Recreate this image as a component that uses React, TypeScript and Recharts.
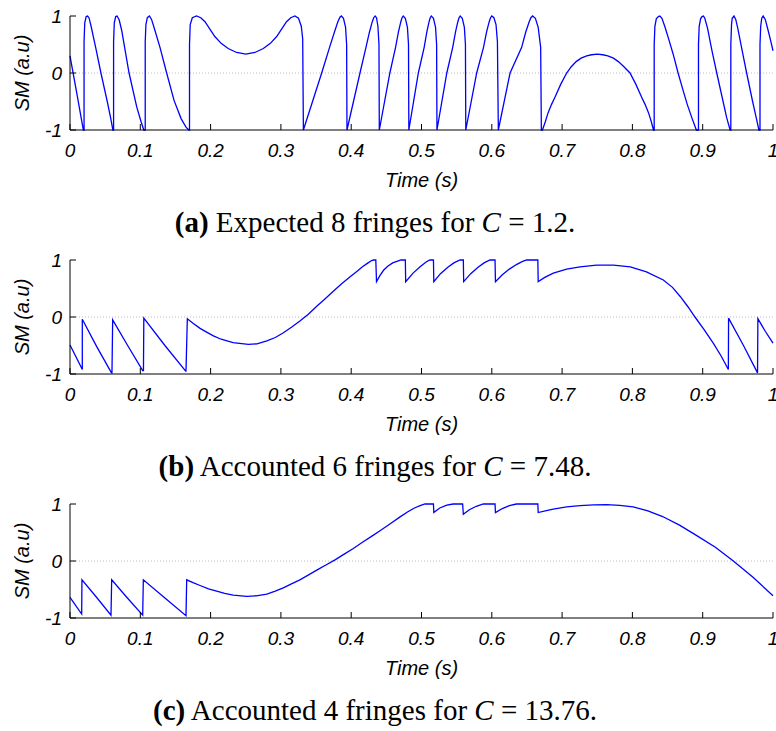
import React from "react";
import { LineChart, Line, XAxis, YAxis, ReferenceLine } from "recharts";

type Sample = [number, number];

// axis ticks
const timeTicks = [0, 0.1, 0.2, 0.3, 0.4, 0.5, 0.6, 0.7, 0.8, 0.9, 1];
const timeTickLabels = ["0", "0.1", "0.2", "0.3", "0.4", "0.5", "0.6", "0.7", "0.8", "0.9", "1"];
const smTicks = [-1, 0, 1];
const smTickLabels = ["-1", "0", "1"];

// sub-figure captions
const panelTags = ["(a)", "(b)", "(c)"];
const panelTexts = ["Expected 8 fringes for", "Accounted 6 fringes for", "Accounted 4 fringes for"];
const panelC = ["1.2", "7.48", "13.76"];

// (a) C = 1.2 : [time s, SM a.u]
const smA: Sample[] = [
  [0, 0.3], [0.01, -0.38], [0.019, -1],
  [0.02, -1], [0.02, 0.55], [0.021, 0.88], [0.023, 0.99], [0.025, 1], [0.027, 0.97], [0.03, 0.82], [0.037, 0.42], [0.044, 0], [0.053, -0.5], [0.058, -0.8], [0.061, -1],
  [0.062, -1], [0.062, 0.55], [0.063, 0.88], [0.065, 0.99], [0.067, 1], [0.07, 0.93], [0.0735, 0.75], [0.084, 0], [0.095, -0.6], [0.101, -0.85], [0.105, -1],
  [0.107, -1], [0.107, 0.55], [0.108, 0.85], [0.11, 0.97], [0.113, 1], [0.116, 0.94], [0.12, 0.78], [0.128, 0.45], [0.1375, 0], [0.148, -0.48], [0.158, -0.8], [0.165, -0.95], [0.169, -1],
  [0.17, -1], [0.17, 0.5], [0.171, 0.85], [0.174, 0.97], [0.18, 1], [0.186, 0.97], [0.192, 0.9], [0.199, 0.77], [0.206, 0.64], [0.215, 0.52], [0.225, 0.43], [0.237, 0.36], [0.25, 0.33], [0.263, 0.36], [0.275, 0.43], [0.285, 0.52], [0.294, 0.64], [0.301, 0.77], [0.308, 0.9], [0.314, 0.97], [0.32, 1], [0.325, 0.96], [0.329, 0.82], [0.331, 0.6], [0.332, -1],
  [0.358, 0], [0.37, 0.48], [0.377, 0.75], [0.381, 0.9], [0.384, 0.98], [0.386, 1], [0.389, 0.96], [0.392, 0.8], [0.3935, 0.5], [0.394, -1],
  [0.4125, 0], [0.421, 0.45], [0.426, 0.72], [0.43, 0.9], [0.432, 0.97], [0.434, 1], [0.436, 0.97], [0.438, 0.82], [0.4395, 0.5], [0.44, -1],
  [0.455, 0], [0.4631, 0.45], [0.4672, 0.72], [0.4706, 0.9], [0.4723, 0.97], [0.474, 1], [0.477, 0.96], [0.48, 0.8], [0.4815, 0.5], [0.482, -1],
  [0.4955, 0], [0.5038, 0.45], [0.5076, 0.72], [0.5108, 0.9], [0.5124, 0.97], [0.514, 1], [0.517, 0.96], [0.52, 0.8], [0.5215, 0.5], [0.522, -1],
  [0.536, 0], [0.5444, 0.45], [0.5484, 0.72], [0.5517, 0.9], [0.5534, 0.97], [0.555, 1], [0.558, 0.96], [0.561, 0.8], [0.5625, 0.5], [0.563, -1],
  [0.5785, 0], [0.5882, 0.45], [0.5926, 0.72], [0.5963, 0.9], [0.5982, 0.97], [0.6, 1], [0.603, 0.97], [0.606, 0.85], [0.608, 0.55], [0.6093, -1],
  [0.626, 0], [0.6425, 0.45], [0.6483, 0.72], [0.6532, 0.9], [0.6556, 0.97], [0.658, 1], [0.662, 0.96], [0.666, 0.8], [0.6695, 0.45], [0.6705, -1],
  [0.672, -1], [0.676, -0.86], [0.68, -0.7], [0.685, -0.55], [0.69, -0.42], [0.698, -0.2], [0.7065, 0], [0.713, 0.11], [0.72, 0.2], [0.727, 0.26], [0.735, 0.3], [0.742, 0.32], [0.75, 0.33], [0.758, 0.32], [0.765, 0.3], [0.773, 0.26], [0.78, 0.2], [0.788, 0.11], [0.7966, 0], [0.805, -0.2], [0.813, -0.42], [0.818, -0.55], [0.823, -0.7], [0.827, -0.86], [0.83, -1],
  [0.831, -1], [0.831, 0.5], [0.832, 0.82], [0.834, 0.95], [0.837, 0.99], [0.839, 1], [0.842, 0.96], [0.846, 0.82], [0.851, 0.62], [0.858, 0.33], [0.865, 0], [0.872, -0.3], [0.878, -0.55], [0.885, -0.8], [0.891, -1],
  [0.894, -1], [0.894, 0.5], [0.895, 0.82], [0.897, 0.95], [0.899, 0.99], [0.901, 1], [0.903, 0.96], [0.907, 0.78], [0.913, 0.4], [0.92, 0], [0.929, -0.5], [0.934, -0.78], [0.939, -1],
  [0.94, -1], [0.94, 0.5], [0.941, 0.85], [0.942, 0.96], [0.9445, 1], [0.947, 0.94], [0.95, 0.78], [0.956, 0.4], [0.9625, 0], [0.971, -0.5], [0.976, -0.78], [0.98, -1],
  [0.9815, -1], [0.9815, 0.5], [0.9825, 0.82], [0.984, 0.96], [0.986, 1], [0.989, 0.94], [0.993, 0.75], [0.997, 0.55], [1, 0.39],
];

// (b) C = 7.48
const smB: Sample[] = [
  [0, -0.49], [0.009, -0.71], [0.0175, -0.92],
  [0.0175, -0.04], [0.038, -0.52], [0.059, -0.98],
  [0.0597, -0.98], [0.0607, -0.05], [0.082, -0.5], [0.1034, -0.94],
  [0.1045, -0.94], [0.105, -0.02], [0.135, -0.5], [0.1646, -0.95],
  [0.165, -0.95], [0.1669, -0.03], [0.175, -0.11], [0.185, -0.2], [0.195, -0.27], [0.204, -0.33], [0.215, -0.39], [0.232, -0.45], [0.2536, -0.48], [0.266, -0.47], [0.28, -0.42], [0.292, -0.36], [0.303, -0.28], [0.315, -0.18], [0.327, -0.07], [0.339, 0.05], [0.351, 0.19], [0.363, 0.32], [0.3745, 0.45], [0.386, 0.58], [0.398, 0.7], [0.408, 0.8], [0.416, 0.88], [0.424, 0.95], [0.429, 0.99], [0.432, 1], [0.435, 1],
  [0.436, 0.62], [0.441, 0.73], [0.446, 0.82], [0.452, 0.89], [0.459, 0.95], [0.466, 0.98], [0.4708, 1], [0.477, 1],
  [0.4775, 0.62], [0.488, 0.77], [0.498, 0.88], [0.507, 0.97], [0.512, 1], [0.517, 1],
  [0.5175, 0.62], [0.527, 0.76], [0.537, 0.87], [0.546, 0.95], [0.5548, 1], [0.5595, 1],
  [0.56, 0.62], [0.57, 0.76], [0.58, 0.87], [0.589, 0.95], [0.5974, 1], [0.6046, 1],
  [0.6052, 0.62], [0.615, 0.74], [0.625, 0.84], [0.635, 0.92], [0.643, 0.97], [0.6496, 1], [0.6655, 1],
  [0.666, 0.62], [0.676, 0.7], [0.6875, 0.77], [0.7065, 0.84], [0.7255, 0.88], [0.749, 0.91], [0.773, 0.91], [0.797, 0.88], [0.82, 0.79], [0.844, 0.65], [0.857, 0.52], [0.868, 0.36], [0.879, 0.18], [0.889, 0], [0.902, -0.22], [0.915, -0.46], [0.926, -0.68], [0.9365, -0.92],
  [0.9368, -0.02], [0.958, -0.5], [0.978, -0.98],
  [0.9785, -0.03], [0.989, -0.25], [1, -0.46],
];

// (c) C = 13.76
const smC: Sample[] = [
  [0, -0.64], [0.0166, -0.93],
  [0.017, -0.33], [0.038, -0.64], [0.0583, -0.95],
  [0.0593, -0.33], [0.081, -0.64], [0.1034, -0.95],
  [0.1043, -0.33], [0.135, -0.65], [0.165, -0.96],
  [0.166, -0.33], [0.175, -0.38], [0.185, -0.43], [0.197, -0.49], [0.2086, -0.53], [0.22, -0.57], [0.2323, -0.6], [0.2513, -0.62], [0.265, -0.61], [0.28, -0.58], [0.292, -0.53], [0.3034, -0.47], [0.315, -0.4], [0.327, -0.33], [0.34, -0.24], [0.351, -0.16], [0.364, -0.07], [0.377, 0.02], [0.39, 0.12], [0.403, 0.22], [0.416, 0.33], [0.43, 0.44], [0.441, 0.53], [0.455, 0.65], [0.469, 0.77], [0.48, 0.86], [0.49, 0.93], [0.498, 0.97], [0.505, 1], [0.517, 1],
  [0.5175, 0.85], [0.526, 0.93], [0.536, 0.98], [0.545, 1], [0.5585, 1],
  [0.5595, 0.82], [0.568, 0.9], [0.578, 0.96], [0.588, 1], [0.6046, 1],
  [0.6052, 0.85], [0.615, 0.92], [0.625, 0.97], [0.635, 1], [0.6655, 1],
  [0.666, 0.85], [0.676, 0.88], [0.6875, 0.91], [0.7065, 0.95], [0.7255, 0.97], [0.745, 0.985], [0.7635, 0.99], [0.782, 0.975], [0.801, 0.95], [0.822, 0.88], [0.843, 0.78], [0.867, 0.63], [0.891, 0.45], [0.918, 0.24], [0.9436, 0], [0.972, -0.29], [1, -0.61],
];

const panels = [smA, smB, smC];

const SANS = "'Liberation Sans', Arial, Helvetica, sans-serif";
const SERIF = "'Liberation Serif', 'Times New Roman', Times, serif";

function TimeTick(props: any) {
  const { x, y, payload } = props;
  const i = timeTicks.indexOf(payload.value);
  return (
    <g>
      <line x1={x} y1={y} x2={x} y2={y - 6} stroke="#000" strokeWidth={1} />
      <text x={x} y={y + 20} dy="0.36em" textAnchor="middle" fontFamily={SANS} fontStyle="italic" fontSize={19} fill="#000">
        {i >= 0 ? timeTickLabels[i] : payload.value}
      </text>
    </g>
  );
}

function SmTick(props: any) {
  const { x, y, payload } = props;
  const i = smTicks.indexOf(payload.value);
  return (
    <g>
      <line x1={x} y1={y} x2={x + 6} y2={y} stroke="#000" strokeWidth={1} />
      <text x={x - 8} y={y} dy="0.36em" textAnchor="end" fontFamily={SANS} fontStyle="italic" fontSize={19} fill="#000">
        {i >= 0 ? smTickLabels[i] : payload.value}
      </text>
    </g>
  );
}

function TimeTitle() {
  return (
    <text x={421.5} y={180} dy="0.36em" textAnchor="middle" fontFamily={SANS} fontStyle="italic" fontSize={20} fill="#000">
      Time (s)
    </text>
  );
}

function SmTitle() {
  return (
    <text x={22} y={73} dy="0.36em" textAnchor="middle" transform="rotate(-90 22 73)" fontFamily={SANS} fontStyle="italic" fontSize={20} fill="#000">
      SM (a.u)
    </text>
  );
}

function Panel({ index }: { index: number }) {
  const data = panels[index].map(([t, v]) => ({ t, v }));
  return (
    <div style={{ position: "absolute", left: 0, top: index * 244, width: 776, height: 244 }}>
      <LineChart width={776} height={200} data={data} margin={{ top: 16, right: 3, bottom: 10, left: 10 }}>
        <ReferenceLine y={0} stroke="#bdbdbd" strokeDasharray="1 2" />
        <XAxis
          dataKey="t"
          type="number"
          domain={[0, 1]}
          ticks={timeTicks}
          interval={0}
          height={60}
          tickSize={0}
          tickMargin={0}
          tick={<TimeTick />}
          axisLine={{ stroke: "#000", strokeWidth: 1 }}
          label={<TimeTitle />}
        />
        <YAxis
          type="number"
          domain={[-1, 1]}
          ticks={smTicks}
          interval={0}
          width={60}
          tickSize={0}
          tickMargin={0}
          tick={<SmTick />}
          axisLine={{ stroke: "#000", strokeWidth: 1 }}
          label={<SmTitle />}
        />
        <Line dataKey="v" type="linear" stroke="#0000ff" strokeWidth={1.3} dot={false} activeDot={false} isAnimationActive={false} />
      </LineChart>
      <div
        style={{
          position: "absolute",
          left: 375,
          top: 208,
          transform: "translateX(-50%)",
          whiteSpace: "nowrap",
          fontFamily: SERIF,
          fontSize: 29,
          lineHeight: "29px",
          color: "#000",
        }}
      >
        <b>{panelTags[index]}</b> {panelTexts[index]} <i>C</i> = {panelC[index]}.
      </div>
    </div>
  );
}

export default function App() {
  return (
    <div style={{ position: "absolute", left: 0, top: 0, width: 776, height: 731, background: "#fff", overflow: "hidden" }}>
      <Panel index={0} />
      <Panel index={1} />
      <Panel index={2} />
    </div>
  );
}
